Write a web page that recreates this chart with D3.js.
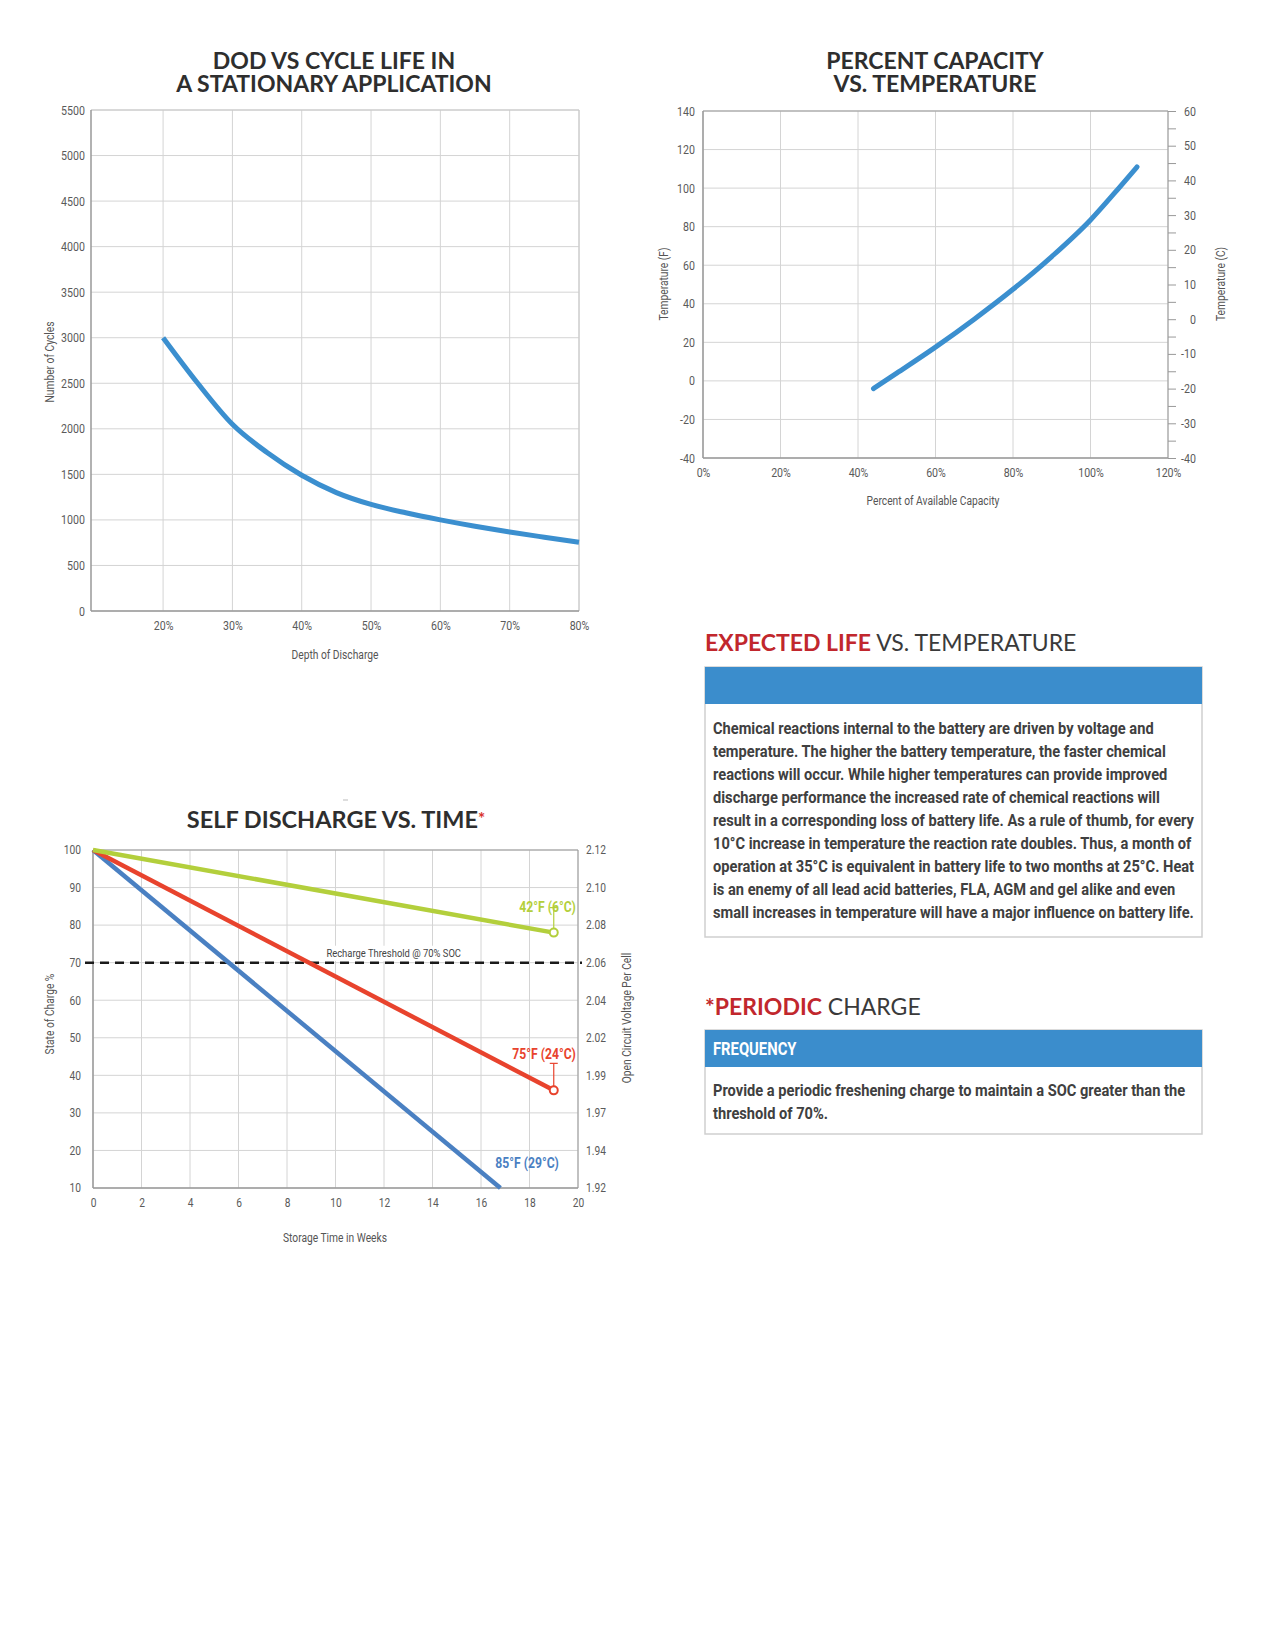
<!DOCTYPE html>
<html>
<head>
<meta charset="utf-8">
<script src="https://cdn.jsdelivr.net/npm/d3@7/dist/d3.min.js"></script>
<style>
  body { margin: 0; background: #fff; }
  svg text { font-family: Roboto, 'DejaVu Sans Condensed', sans-serif; }
  .tick text { fill: #5a5a5a; }
  .grid line { stroke: #d4d4d4; stroke-width: 1; }
  .chart-title { font-family: Lato, sans-serif !important; font-weight: 700; fill: #2e2e2e; }
  .axis-title { fill: #555; font-size: 12.5px; }
</style>
</head>
<body>
<svg width="1275" height="1650"></svg>
<script>
// DOD vs cycle life
var dodPercent = [20, 25, 30, 35, 40, 45, 50, 55, 60, 65, 70, 75, 80];
var dodCycles = [3000, 2500, 2050, 1740, 1490, 1300, 1170, 1078, 1000, 930, 867, 810, 755];
var dodXTicks = [20, 30, 40, 50, 60, 70, 80];
var dodYTicks = d3.range(0, 5501, 500);

// percent capacity vs temperature
var capPercent = [44, 50, 60, 70, 80, 90, 100, 106, 112];
var capTempF = [-4, 4, 17.5, 32, 47.5, 64.5, 83.5, 97, 111];
var capXTicks = [0, 20, 40, 60, 80, 100, 120];
var capYTicksF = d3.range(-40, 141, 20);
var capYTicksC = d3.range(-40, 61, 10);

// self discharge vs time
var sdNames = ['42°F (6°C)', '75°F (24°C)', '85°F (29°C)'];
var sdStartWeek = [0, 0, 0];
var sdStartSoc = [100, 100, 100];
var sdEndWeek = [19, 19, 16.8];
var sdEndSoc = [78, 36, 10];
var sdXTicks = d3.range(0, 21, 2);
var sdYTicks = d3.range(10, 101, 10);
var sdVoltTicks = ['1.92', '1.94', '1.97', '1.99', '2.02', '2.04', '2.06', '2.08', '2.10', '2.12'];
var sdThreshold = 70;

var lifeText = [
  'Chemical reactions internal to the battery are driven by voltage and',
  'temperature. The higher the battery temperature, the faster chemical',
  'reactions will occur. While higher temperatures can provide improved',
  'discharge performance the increased rate of chemical reactions will',
  'result in a corresponding loss of battery life. As a rule of thumb, for every',
  '10°C increase in temperature the reaction rate doubles. Thus, a month of',
  'operation at 35°C is equivalent in battery life to two months at 25°C. Heat',
  'is an enemy of all lead acid batteries, FLA, AGM and gel alike and even',
  'small increases in temperature will have a major influence on battery life.'
];
var periodicText = [
  'Provide a periodic freshening charge to maintain a SOC greater than the',
  'threshold of 70%.'
];

var svg = d3.select('svg');
svg.append('rect').attr('width', 1275).attr('height', 1650).attr('fill', '#fff');

// narrow a text horizontally about its own x (fake condensed face)
function squeeze(sel, k) {
  sel.each(function() {
    var t = d3.select(this);
    var x = +t.attr('x') || 0;
    var prev = t.attr('transform') || '';
    t.attr('transform', prev + ' translate(' + x + ',0) scale(' + k + ',1) translate(' + (-x) + ',0)');
  });
}

function title(lines, cx, y0, size, gap) {
  lines.forEach(function(l, i) {
    svg.append('text')
      .attr('class', 'chart-title')
      .attr('text-anchor', 'middle')
      .style('font-size', size + 'px')
      .attr('x', cx).attr('y', y0 + i * gap).text(l);
  });
  return svg.selectAll('.chart-title').filter(function(d, i, n) { return i === n.length - 1; });
}

function grid(g, x, y, xt, yt) {
  var x0 = x.range()[0], x1 = x.range()[1];
  var y0 = y.range()[0], y1 = y.range()[1];
  var gg = g.append('g').attr('class', 'grid');
  gg.selectAll('.gx').data(xt).enter().append('line')
    .attr('x1', function(d) { return x(d); })
    .attr('x2', function(d) { return x(d); })
    .attr('y1', y0).attr('y2', y1);
  gg.selectAll('.gy').data(yt).enter().append('line')
    .attr('x1', x0).attr('x2', x1)
    .attr('y1', function(d) { return y(d); })
    .attr('y2', function(d) { return y(d); });
}

function frame(g, x, y, axisColor, borderColor) {
  var x0 = x.range()[0], x1 = x.range()[1];
  var y0 = y.range()[0], y1 = y.range()[1];
  g.append('line').attr('x1', x0).attr('x2', x1).attr('y1', y1).attr('y2', y1).attr('stroke', borderColor);
  g.append('line').attr('x1', x1).attr('x2', x1).attr('y1', y0).attr('y2', y1).attr('stroke', borderColor);
  g.append('line').attr('x1', x0).attr('x2', x0).attr('y1', y0).attr('y2', y1).attr('stroke', axisColor).attr('stroke-width', 1.5);
  g.append('line').attr('x1', x0).attr('x2', x1).attr('y1', y0).attr('y2', y0).attr('stroke', axisColor).attr('stroke-width', 1.5);
}

// axis used only for its labels; tickSize 0 so padding is the real gap
function labelAxis(g, axis, transform, size) {
  var a = g.append('g').attr('transform', transform).call(axis.tickSize(0));
  a.select('.domain').remove();
  a.selectAll('.tick line').remove();
  a.selectAll('.tick text').style('font-size', size + 'px').style('font-family', 'Roboto, sans-serif');
  squeeze(a.selectAll('.tick text'), 0.85);
  return a;
}

function rotLabel(txt, x, y) {
  svg.append('text').attr('class', 'axis-title')
    .attr('transform', 'translate(' + x + ',' + y + ') rotate(-90) scale(0.82,1)')
    .attr('text-anchor', 'middle')
    .text(txt);
}

function bottomLabel(txt, x, y) {
  var t = svg.append('text').attr('class', 'axis-title').attr('x', x).attr('y', y)
    .attr('text-anchor', 'middle').text(txt);
  squeeze(t, 0.82);
}

var plain = function(d) { return String(d); };

// ---------- chart 1 ----------
(function() {
  var x = d3.scaleLinear().domain([9.6, 80]).range([91, 579]);
  var y = d3.scaleLinear().domain([0, 5500]).range([611, 110]);
  var g = svg.append('g');

  title(['DOD VS CYCLE LIFE IN', 'A STATIONARY APPLICATION'], 334, 69, 23, 23);
  grid(g, x, y, dodXTicks, dodYTicks);
  frame(g, x, y, '#999', '#c8c8c8');

  labelAxis(g, d3.axisLeft(y).tickValues(dodYTicks).tickFormat(plain).tickPadding(6), 'translate(91,0)', 12.5);
  labelAxis(g, d3.axisBottom(x).tickValues(dodXTicks).tickFormat(function(d) { return d + '%'; }).tickPadding(10),
    'translate(0,611)', 12.5);

  g.append('path')
    .datum(dodPercent.map(function(d, i) { return [d, dodCycles[i]]; }))
    .attr('fill', 'none')
    .attr('stroke', '#3b8fcf')
    .attr('stroke-width', 5)
    .attr('d', d3.line().x(function(d) { return x(d[0]); }).y(function(d) { return y(d[1]); }).curve(d3.curveMonotoneX));

  bottomLabel('Depth of Discharge', 335, 659);
  rotLabel('Number of Cycles', 54, 362);
})();

// ---------- chart 2 ----------
(function() {
  var x = d3.scaleLinear().domain([0, 120]).range([703, 1168]);
  var y = d3.scaleLinear().domain([-40, 140]).range([458, 111]);
  var yc = d3.scaleLinear().domain([-40, 60]).range([458, 111]);
  var g = svg.append('g');

  title(['PERCENT CAPACITY', 'VS. TEMPERATURE'], 935, 69, 23, 23);
  grid(g, x, y, capXTicks, capYTicksF);
  frame(g, x, y, '#999', '#999');

  labelAxis(g, d3.axisLeft(y).tickValues(capYTicksF).tickFormat(plain).tickPadding(8), 'translate(703,0)', 12.5);
  labelAxis(g, d3.axisBottom(x).tickValues(capXTicks).tickFormat(function(d) { return d + '%'; }).tickPadding(10),
    'translate(0,458)', 12.5);

  // celsius axis on the right, minor ticks every 5 degrees
  var ra = g.append('g').attr('transform', 'translate(1168,0)')
    .call(d3.axisRight(yc).tickValues(d3.range(-40, 61, 5)).tickSize(8).tickFormat(function(d) {
      return capYTicksC.indexOf(d) >= 0 ? plain(d) : '';
    }));
  ra.select('.domain').remove();
  ra.selectAll('.tick line').attr('stroke', '#999');
  ra.selectAll('.tick text').attr('text-anchor', 'end').attr('x', 28)
    .style('font-size', '12.5px').style('font-family', 'Roboto, sans-serif');
  squeeze(ra.selectAll('.tick text'), 0.85);

  g.append('path')
    .datum(capPercent.map(function(d, i) { return [d, capTempF[i]]; }))
    .attr('fill', 'none')
    .attr('stroke', '#3b8fcf')
    .attr('stroke-width', 5)
    .attr('stroke-linecap', 'round')
    .attr('d', d3.line().x(function(d) { return x(d[0]); }).y(function(d) { return y(d[1]); }).curve(d3.curveMonotoneX));

  bottomLabel('Percent of Available Capacity', 933, 505);
  rotLabel('Temperature (F)', 668, 284);
  rotLabel('Temperature (C)', 1225, 284);
})();

// ---------- chart 3 ----------
(function() {
  var x = d3.scaleLinear().domain([0, 20]).range([93, 578]);
  var y = d3.scaleLinear().domain([10, 100]).range([1188, 850]);
  var g = svg.append('g');
  var colors = ['#b3cf3c', '#e8432d', '#4a80c2'];

  svg.append('line').attr('x1', 343).attr('x2', 348).attr('y1', 800).attr('y2', 800).attr('stroke', '#bbb');
  var t = title(['SELF DISCHARGE VS. TIME'], 336, 828, 23.5, 0);
  t.append('tspan').attr('fill', '#d9332c').style('font-size', '17px').attr('dy', -3).text('*');

  grid(g, x, y, sdXTicks, sdYTicks);
  frame(g, x, y, '#999', '#999');

  labelAxis(g, d3.axisLeft(y).tickValues(sdYTicks).tickFormat(plain).tickPadding(12), 'translate(93,0)', 12);
  labelAxis(g, d3.axisBottom(x).tickValues(sdXTicks).tickFormat(plain).tickPadding(10), 'translate(0,1188)', 12);
  labelAxis(g, d3.axisRight(y).tickValues(sdYTicks).tickFormat(function(d, i) { return sdVoltTicks[i]; }).tickPadding(8),
    'translate(578,0)', 12);

  // threshold line and its label on a white patch
  var thr = g.append('g');
  var cx0 = x(12.4), kx = 0.82;
  var tt = thr.append('text').attr('x', cx0).attr('y', y(sdThreshold) - 6)
    .attr('text-anchor', 'middle').style('font-size', '11.5px').attr('fill', '#444')
    .text('Recharge Threshold @ 70% SOC');
  squeeze(tt, kx);
  var bb = tt.node().getBBox();
  thr.insert('rect', 'text')
    .attr('x', cx0 - bb.width * kx / 2 - 3).attr('y', bb.y)
    .attr('width', bb.width * kx + 6).attr('height', bb.height + 1).attr('fill', '#fff');
  g.append('line')
    .attr('x1', 85).attr('x2', 582)
    .attr('y1', y(sdThreshold)).attr('y2', y(sdThreshold))
    .attr('stroke', '#1a1a1a').attr('stroke-width', 2.5).attr('stroke-dasharray', '9,6');

  var line = d3.line().x(function(d) { return x(d[0]); }).y(function(d) { return y(d[1]); });
  [2, 1, 0].forEach(function(i) {
    g.append('path')
      .datum([[sdStartWeek[i], sdStartSoc[i]], [sdEndWeek[i], sdEndSoc[i]]])
      .attr('fill', 'none').attr('stroke', colors[i]).attr('stroke-width', 4.5)
      .attr('d', line);
  });

  // leader lines for the two series that stop inside the plot
  var leader = [25, 27];
  var labelDy = [26, 36, 25];
  [0, 1].forEach(function(i) {
    var cx = x(sdEndWeek[i]), cy = y(sdEndSoc[i]);
    g.append('line').attr('x1', cx).attr('x2', cx).attr('y1', cy - leader[i]).attr('y2', cy)
      .attr('stroke', colors[i]).attr('stroke-width', 1.2);
    g.append('line').attr('x1', cx - 4).attr('x2', cx + 4).attr('y1', cy - leader[i]).attr('y2', cy - leader[i])
      .attr('stroke', colors[i]).attr('stroke-width', 1.2);
  });
  [0, 1, 2].forEach(function(i) {
    var ty = (i === 2 ? y(sdYTicks[0]) : y(sdEndSoc[i])) - labelDy[i];
    var lt = g.append('text')
      .attr('x', i === 2 ? x(19) + 5 : x(19) + 22)
      .attr('y', ty + 5)
      .attr('text-anchor', 'end')
      .attr('fill', colors[i])
      .style('font-size', '14.5px').style('font-weight', 'bold')
      .text(sdNames[i]);
    squeeze(lt, 0.84);
  });
  [0, 1].forEach(function(i) {
    g.append('circle').attr('cx', x(sdEndWeek[i])).attr('cy', y(sdEndSoc[i])).attr('r', 4)
      .attr('fill', '#fff').attr('stroke', colors[i]).attr('stroke-width', 2);
  });

  bottomLabel('Storage Time in Weeks', 335, 1242);
  rotLabel('State of Charge %', 54, 1014);
  rotLabel('Open Circuit Voltage Per Cell', 631, 1018);
})();

// ---------- text panels ----------
var bodyK = null;
function panel(red, gray, headY, barY, barH, barText, lines, textY, boxBottom) {
  var h = svg.append('text').attr('x', 705).attr('y', headY)
    .style('font-family', 'Lato, sans-serif').style('font-size', '23px');
  h.append('tspan').attr('fill', '#c1272d').style('font-weight', 700).text(red);
  h.append('tspan').attr('fill', '#3a3a3a').style('font-weight', 400).text(gray);

  svg.append('rect').attr('x', 705).attr('y', barY).attr('width', 497).attr('height', boxBottom - barY)
    .attr('fill', '#fff').attr('stroke', '#cfcfcf').attr('stroke-width', 1.5);
  svg.append('rect').attr('x', 705).attr('y', barY).attr('width', 497).attr('height', barH).attr('fill', '#3b8dcc');
  if (barText) {
    var bt = svg.append('text').attr('x', 713).attr('y', barY + barH / 2 + 6.5)
      .attr('fill', '#fff').style('font-size', '18.5px').style('font-weight', 'bold').text(barText);
    squeeze(bt, 0.8);
  }
  var t = svg.append('text').attr('x', 713).attr('fill', '#404040')
    .style('font-size', '16px').style('font-weight', 'bold');
  lines.forEach(function(l, i) {
    t.append('tspan').attr('x', 713).attr('y', textY + i * 23).text(l);
  });
  if (bodyK === null) {
    bodyK = 441 / t.select('tspan').node().getComputedTextLength();
  }
  squeeze(t, bodyK);
}

panel('EXPECTED LIFE', ' VS. TEMPERATURE', 651, 667, 37, '', lifeText, 734, 937);
panel('*PERIODIC', ' CHARGE', 1015, 1030, 37, 'FREQUENCY', periodicText, 1096, 1134);
</script>
</body>
</html>
